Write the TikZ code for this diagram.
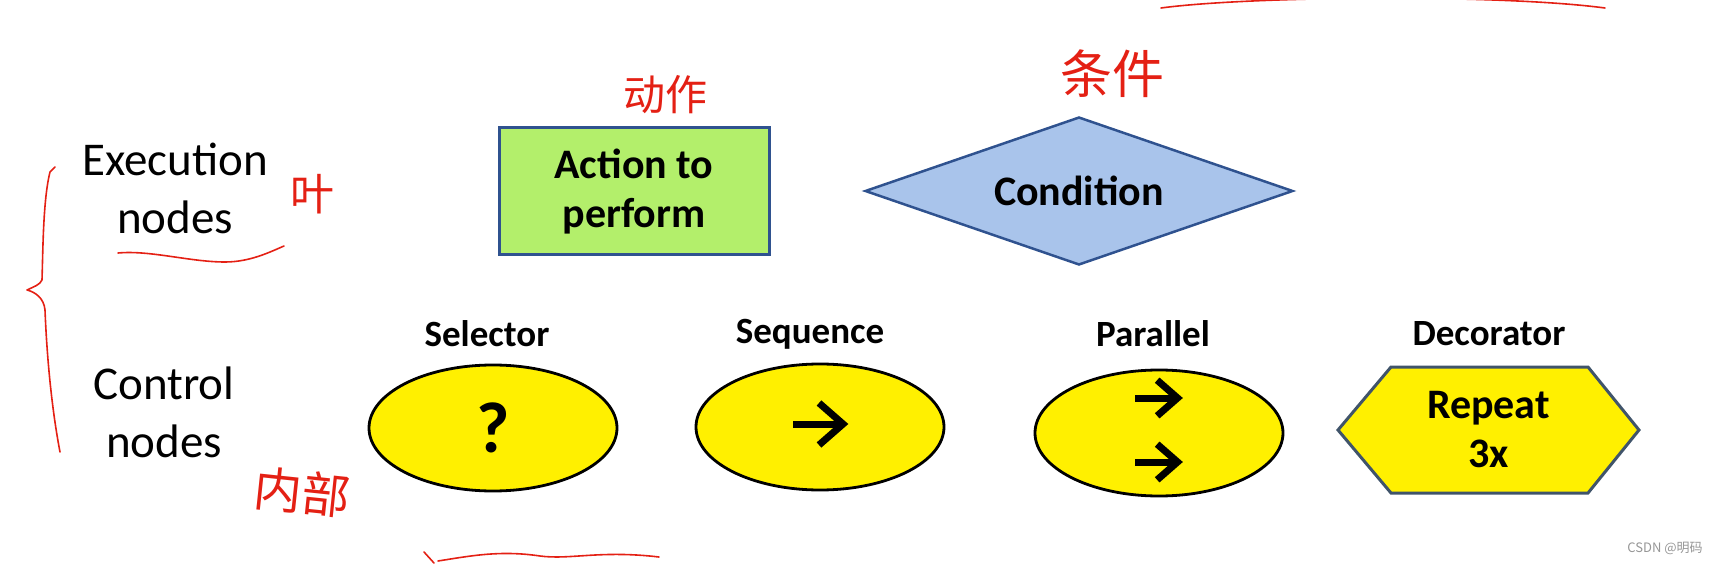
\documentclass[tikz,border=0pt]{standalone}
\usepackage{fontspec}
\setmainfont{Carlito}
\newfontfamily\cjk{Noto Sans CJK SC}
\usetikzlibrary{shapes.geometric}
\definecolor{actgreen}{RGB}{179,239,107}
\definecolor{condblue}{RGB}{169,196,235}
\definecolor{edgeblue}{RGB}{47,82,143}
\definecolor{ctlyellow}{RGB}{255,240,0}
\definecolor{hexedge}{RGB}{64,84,106}
\definecolor{ink}{RGB}{228,32,20}
\definecolor{wmgray}{RGB}{150,150,150}
\begin{document}
\begin{tikzpicture}[x=1pt,y=-1pt,
  rowlabel/.style={font=\fontsize{47}{58}\selectfont, align=center, inner sep=0},
  boldtxt/.style={font=\bfseries\fontsize{42}{49}\selectfont, align=center, inner sep=0},
  ctllabel/.style={font=\bfseries\fontsize{37}{44}\selectfont, inner sep=0},
  ctlnode/.style={ellipse, draw=black, line width=2.8pt, fill=ctlyellow,
    minimum width=248pt, minimum height=126pt, inner sep=0},
  hand/.style={draw=ink, line width=1.6pt, line cap=round, line join=round},
  handtxt/.style={text=ink, font=\cjk, inner sep=0},
  arrowstroke/.style={line width=7pt, line cap=butt, line join=miter},
  chevarrow/.pic={
    \draw[arrowstroke] (-27,0) -- (20,0);
    \draw[arrowstroke] (-1,-21) -- (23,0) -- (-1,21);
  }
]
\useasboundingbox (0,0) rectangle (1717,564);

% row labels
\node[rowlabel] (exec) at (175,188) {Execution\\nodes};
\node[rowlabel] (ctrl) at (164,412) {Control\\nodes};

% execution nodes
\node[boldtxt, rectangle, draw=edgeblue, line width=3pt, fill=actgreen,
  minimum width=270pt, minimum height=127pt] (action) at (634,191.5) {Action to\\perform};
\node[boldtxt, diamond, aspect=2.9, draw=edgeblue, line width=2.5pt, fill=condblue,
  minimum width=428pt, minimum height=148pt] (cond) at (1079,191) {Condition};

% control node labels
\node[ctllabel] (lsel) at (487,334) {Selector};
\node[ctllabel] (lseq) at (810,334) {Sequence};
\node[ctllabel] (lpar) at (1153,334) {Parallel};
\node[ctllabel] (ldec) at (1489,334) {Decorator};

% control nodes
\node[ctlnode, font=\bfseries\fontsize{72}{72}\selectfont] (sel) at (493,428) {?};
\node[ctlnode] (seq) at (820,427) {};
\node[ctlnode] (par) at (1159,433) {};
\pic at ([yshift=3pt]seq.center) {chevarrow};
\pic[scale=0.85] at ([xshift=-1pt,yshift=35pt]par.center) {chevarrow};
\pic[scale=0.85] at ([xshift=-1pt,yshift=-29pt]par.center) {chevarrow};

\path[draw=hexedge, line width=3pt, line join=miter, fill=ctlyellow]
  (1338,430) -- (1391,367) -- (1588,367) -- (1639,430) -- (1588,493) -- (1391,493) -- cycle;
\node[boldtxt] (dec) at (1488.5,430) {Repeat\\3x};

% handwritten annotations
\node[handtxt, font=\cjk\fontsize{42}{42}\selectfont] (hw1) at (665,95) {动作};
\node[handtxt, font=\cjk\fontsize{52}{52}\selectfont] (hw2) at (1112,74) {条件};
\node[handtxt, font=\cjk\fontsize{44}{44}\selectfont] (hw3) at (312,194) {叶};
\node[handtxt, font=\cjk\fontsize{48}{48}\selectfont, rotate=-6] (hw4) at (302,492) {内部};

\draw[hand] (55,167) -- (50,172) .. controls (43,200) and (43,250) .. (42,280)
  .. controls (40,285) and (33,287) .. (27,290)
  .. controls (35,292) and (44,298) .. (45,310)
  .. controls (47,360) and (52,410) .. (60,452);
\draw[hand] (118,253) .. controls (150,250) and (190,262) .. (225,262)
  .. controls (250,262) and (270,252) .. (284,246);
\draw[hand] (424,552) -- (434,563);
\draw[hand] (438,561) .. controls (470,556) and (500,550) .. (540,556)
  .. controls (570,560) and (600,550) .. (659,557);
\draw[hand] (1161,8) .. controls (1250,-4) and (1500,-6) .. (1605,8);

% watermark
\node[text=wmgray, font=\cjk\fontsize{13}{13}\selectfont, inner sep=0] (wm) at (1665,548) {CSDN @明码};
\end{tikzpicture}
\end{document}
